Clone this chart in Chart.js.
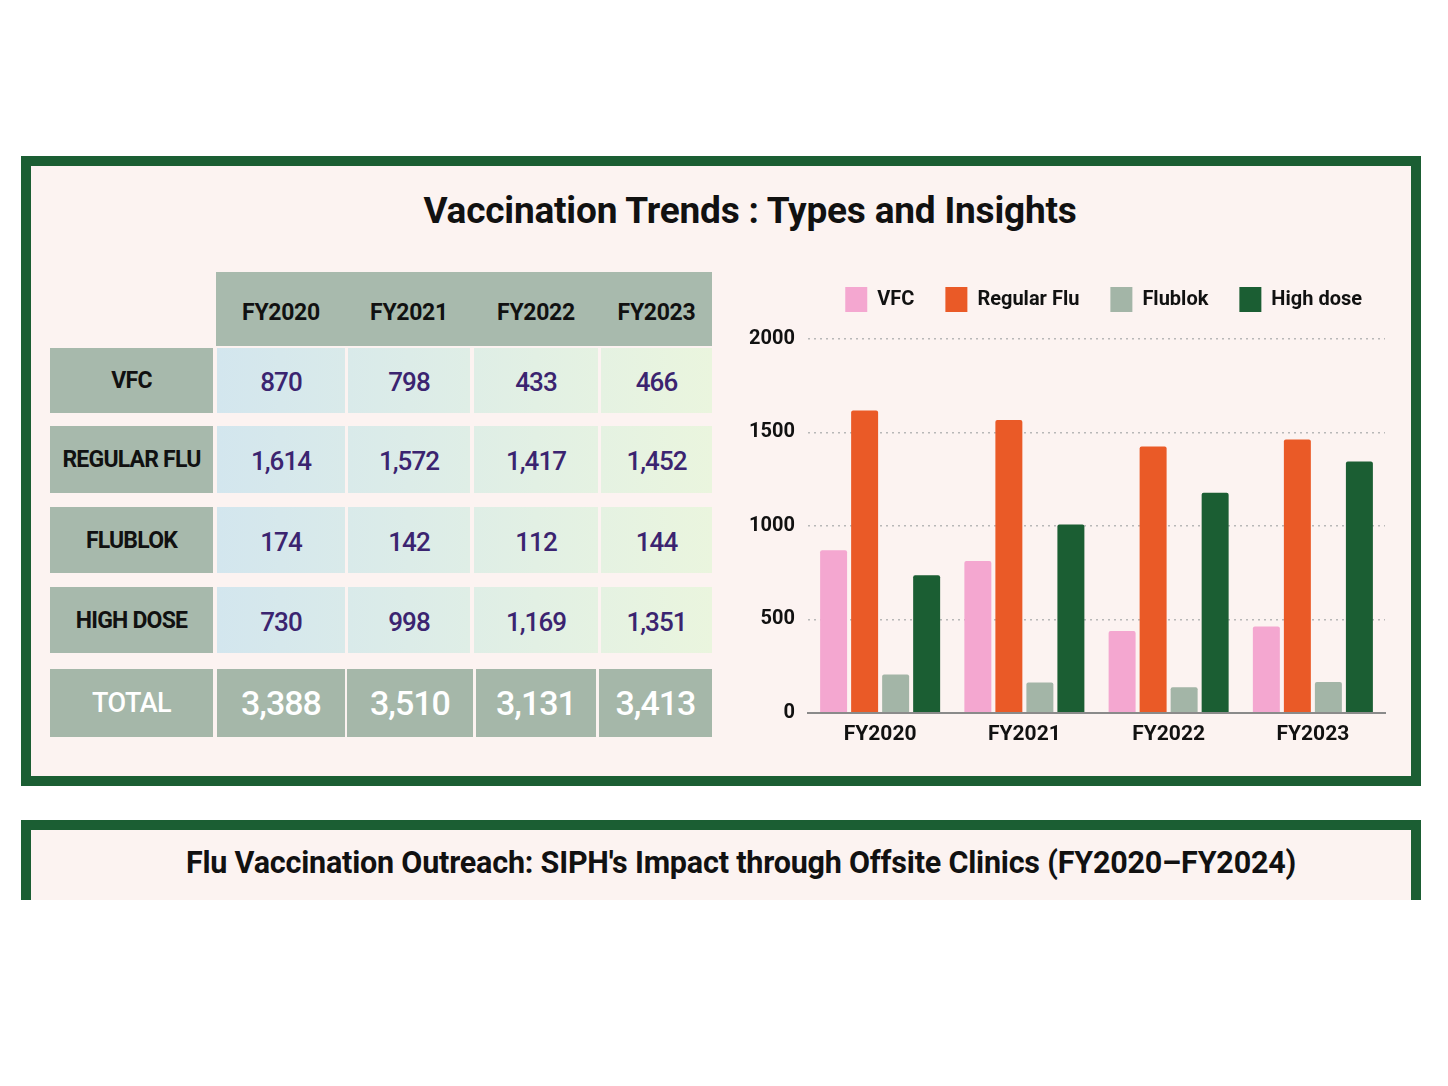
<!DOCTYPE html>
<html>
<head>
<meta charset="utf-8">
<script src="https://cdn.jsdelivr.net/npm/chart.js@4/dist/chart.umd.min.js"></script>
<style>
  html, body { margin: 0; padding: 0; background: #ffffff; width: 1448px; height: 1086px; overflow: hidden; }
  body { position: relative; font-family: "Roboto", "Noto Sans", sans-serif; }
  .card { position: absolute; box-sizing: border-box; background: #fcf3f1; border: 10px solid #1b5e33; }
  #card1 { left: 21px; top: 156px; width: 1400px; height: 630px; }
  #card2 { left: 21px; top: 820px; width: 1400px; height: 80px; border-bottom: none; }
  .title { position: absolute; left: 0; text-align: center; font-weight: 700; color: #111; letter-spacing: -0.2px; }
  #title1 { top: 189px; font-size: 37px; width: 1500px; }
  #title2 { top: 845px; font-size: 30.5px; width: 1482px; }
  .cell { position: absolute; box-sizing: border-box; display: flex; align-items: center; justify-content: center; }
  .head { background: #a8baad; color: #111; font-weight: 700; font-size: 23px; letter-spacing: -0.3px; padding-top: 6px; }
  .rowlab { background: #a7b9ac; color: #111; font-weight: 700; font-size: 23px; letter-spacing: -0.8px; }
  .val { color: #3b2470; font-weight: 500; font-size: 26px; letter-spacing: -1px; padding-top: 3px; }
  .tot { background: #a5b7a9; color: #ffffff; font-weight: 500; font-size: 34px; letter-spacing: -1px; }
  .totlab { font-size: 27px; letter-spacing: -0.5px; }
  #chartBox { position: absolute; left: 735px; top: 250px; width: 665px; height: 506px; }
</style>
</head>
<body>
<div class="card" id="card1"></div>
<div class="card" id="card2"></div>
<div class="title" id="title1">Vaccination Trends : Types and Insights</div>
<div class="title" id="title2">Flu Vaccination Outreach: SIPH's Impact through Offsite Clinics (FY2020–FY2024)</div>
<div id="table"></div>
<div id="chartBox"><canvas id="chart"></canvas></div>
<script>
// table data
const years = ['FY2020', 'FY2021', 'FY2022', 'FY2023']
const rowLabels = ['VFC', 'REGULAR FLU', 'FLUBLOK', 'HIGH DOSE']
const vfcCounts = [870, 798, 433, 466]
const regularCounts = [1614, 1572, 1417, 1452]
const flublokCounts = [174, 142, 112, 144]
const highDoseCounts = [730, 998, 1169, 1351]
const totalCounts = [3388, 3510, 3131, 3413]

// bar heights as drawn in the chart
const seriesNames = ['VFC', 'Regular Flu', 'Flublok', 'High dose']
const vfcBars = [870, 812, 438, 462]
const regularBars = [1618, 1566, 1425, 1462]
const flublokBars = [205, 162, 137, 165]
const highDoseBars = [736, 1007, 1178, 1345]
const yTicks = [0, 500, 1000, 1500, 2000]

// --- table (plain html) ---
const table = document.getElementById('table')
const colLeft = [217, 348, 474, 601]
const colWidth = [128, 122, 124, 111]
const rowTop = [348, 426, 507, 587]
const rowHeight = [65, 67, 66, 66]

function addCell(cls, text, x, y, w, h, bg) {
  const d = document.createElement('div')
  d.className = 'cell ' + cls
  d.style.left = x + 'px'
  d.style.top = y + 'px'
  d.style.width = w + 'px'
  d.style.height = h + 'px'
  if (bg) d.style.background = bg
  d.textContent = text
  table.appendChild(d)
}

// light blue on the left fading to light green on the right
function tint(x) {
  const t = Math.min(1, Math.max(0, (x - 217) / (712 - 217)))
  const a = [211, 230, 238], b = [234, 245, 222]
  const c = a.map((v, i) => Math.round(v + (b[i] - v) * t))
  return 'rgb(' + c.join(',') + ')'
}

addCell('head', '', 216, 272, 496, 74)
years.forEach((y, i) => {
  addCell('head', y, colLeft[i], 272, colWidth[i], 74, 'transparent')
})

const fmt = n => n.toLocaleString('en-US')
const rows = [vfcCounts, regularCounts, flublokCounts, highDoseCounts]
rows.forEach((vals, r) => {
  addCell('rowlab', rowLabels[r], 50, rowTop[r], 163, rowHeight[r])
  vals.forEach((v, c) => {
    const x = colLeft[c]
    addCell('val', fmt(v), x, rowTop[r], colWidth[c],
      rowHeight[r], 'linear-gradient(to right,' + tint(x) + ',' + tint(x + colWidth[c]) + ')')
  })
})

addCell('tot totlab', 'TOTAL', 50, 669, 163, 68)
const totLeft = [217, 347, 476, 599]
const totWidth = [128, 126, 120, 113]
totalCounts.forEach((v, c) => {
  addCell('tot', fmt(v), totLeft[c], 669, totWidth[c], 68)
})

// --- bar chart ---
const ctx = document.getElementById('chart').getContext('2d')
const colors = ['#f4a7d0', '#ea5a27', '#a3b5a7', '#1b5e33']
const barSets = [vfcBars, regularBars, flublokBars, highDoseBars]

// a bit more room under the legend
const legendGap = {
  id: 'legendGap',
  beforeInit(chart) {
    const fit = chart.legend.fit
    chart.legend.fit = function () {
      fit.bind(chart.legend)()
      this.height += 17
    }
  }
}

new Chart(ctx, {
  type: 'bar',
  data: {
    labels: years,
    datasets: seriesNames.map((name, i) => ({
      label: name,
      data: barSets[i],
      backgroundColor: colors[i],
      borderRadius: 2,
      barPercentage: 0.87,
      categoryPercentage: 0.86
    }))
  },
  options: {
    responsive: true,
    maintainAspectRatio: false,
    animation: false,
    layout: { padding: { left: 0, right: 7, top: 6, bottom: 0 } },
    plugins: {
      legend: {
        display: true,
        position: 'top',
        align: 'end',
        labels: {
          boxWidth: 22,
          boxHeight: 25,
          padding: 31,
          color: '#111',
          font: { family: 'Roboto', size: 20, weight: 'bold' }
        }
      },
      tooltip: { enabled: false }
    },
    scales: {
      y: {
        min: 0,
        max: 2000,
        afterBuildTicks: axis => { axis.ticks = yTicks.map(v => ({ value: v })) },
        afterFit: axis => { axis.width = 73 },
        ticks: {
          color: '#111',
          padding: 13,
          font: { family: 'Roboto', size: 20, weight: 'bold' },
          callback: value => String(value)
        },
        grid: {
          color: '#b8b8b8',
          lineWidth: 1.5,
          drawTicks: false
        },
        border: { display: false, dash: [2, 4] }
      },
      yRight: {
        position: 'right',
        display: true,
        afterFit: axis => { axis.width = 8 },
        ticks: { display: false },
        grid: { display: false, drawTicks: false },
        border: { display: false }
      },
      x: {
        ticks: {
          color: '#111',
          padding: 9,
          font: { family: 'Roboto', size: 21, weight: 'bold' }
        },
        grid: { display: false, drawTicks: false },
        border: { display: true, color: '#8a8a8a', width: 2 }
      }
    }
  },
  plugins: [legendGap]
})
</script>
</body>
</html>
